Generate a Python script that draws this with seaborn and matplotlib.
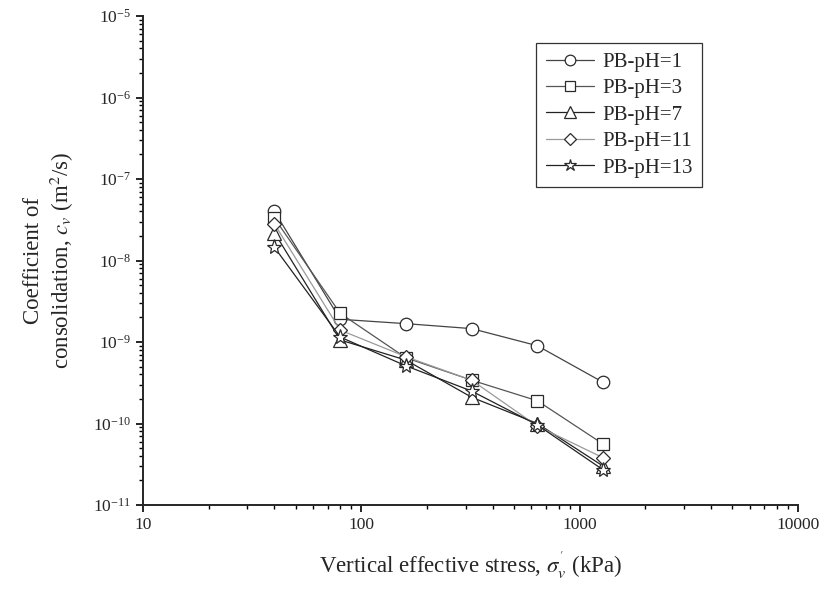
import numpy as np
import pandas as pd
import seaborn as sns
import matplotlib
matplotlib.use("Agg")
import matplotlib.pyplot as plt
from matplotlib.ticker import LogLocator, LogFormatterSciNotation, FixedLocator, NullFormatter

# Consolidation test results: coefficient of consolidation vs vertical effective stress
stress = [40, 80, 160, 320, 640, 1280]  # kPa
cv_ph1 = [4.0e-8, 1.9e-9, 1.68e-9, 1.46e-9, 9.0e-10, 3.2e-10]
cv_ph3 = [3.3e-8, 2.25e-9, 6.4e-10, 3.4e-10, 1.9e-10, 5.6e-11]
cv_ph7 = [2.2e-8, 1.06e-9, 6.0e-10, 2.1e-10, 1.0e-10, 3.0e-11]
cv_ph11 = [2.8e-8, 1.4e-9, 6.6e-10, 3.4e-10, 9.3e-11, 3.8e-11]
cv_ph13 = [1.45e-8, 1.15e-9, 5.1e-10, 2.5e-10, 9.6e-11, 2.7e-11]
series_names = ["PB-pH=1", "PB-pH=3", "PB-pH=7", "PB-pH=11", "PB-pH=13"]

frames = []
for name, vals in zip(series_names, [cv_ph1, cv_ph3, cv_ph7, cv_ph11, cv_ph13]):
    frames.append(pd.DataFrame({"stress": stress, "cv": vals, "series": name}))
df = pd.concat(frames, ignore_index=True)

sns.set_style("ticks")
plt.rcParams["font.family"] = ["Liberation Serif", "DejaVu Serif"]
plt.rcParams["mathtext.fontset"] = "stix"

styles = {
    "PB-pH=1": dict(marker="o", color="#444444", ms=9.0),
    "PB-pH=3": dict(marker="s", color="#555555", ms=8.5),
    "PB-pH=7": dict(marker="^", color="#222222", ms=9.5),
    "PB-pH=11": dict(marker="D", color="#9a9a9a", ms=7.5),
    "PB-pH=13": dict(marker="*", color="#222222", ms=11.0),
}

fig = plt.figure(figsize=(8.27, 5.89), dpi=100)
ax = fig.add_axes([0.1729, 0.1426, 0.7921, 0.8302])

for name in series_names:
    st = styles[name]
    sub = df[df["series"] == name]
    sns.lineplot(data=sub, x="stress", y="cv", ax=ax, color=st["color"],
                 marker=st["marker"], markersize=st["ms"], markerfacecolor="white",
                 markeredgecolor="#2a2a2a", markeredgewidth=0.9, linewidth=0.9,
                 label=name, estimator=None, sort=False)

ax.set_xscale("log")
ax.set_yscale("log")
ax.set_xlim(10, 10000)
ax.set_ylim(1e-11, 1e-5)

ax.xaxis.set_major_locator(FixedLocator([10, 100, 1000, 10000]))
ax.set_xticklabels(["10", "100", "1000", "10000"])
ax.xaxis.set_minor_locator(LogLocator(base=10, subs=np.arange(2, 10)))
ax.xaxis.set_minor_formatter(NullFormatter())
ax.yaxis.set_major_locator(LogLocator(base=10, numticks=10))
ax.yaxis.set_major_formatter(LogFormatterSciNotation())
ax.yaxis.set_minor_locator(LogLocator(base=10, subs=np.arange(2, 10), numticks=20))
ax.yaxis.set_minor_formatter(NullFormatter())

ax.tick_params(axis="both", which="major", direction="out", length=5, width=1.2,
               labelsize=12.5, color="black")
ax.tick_params(axis="both", which="minor", direction="out", length=3, width=1.0,
               color="black")

for side in ["top", "right"]:
    ax.spines[side].set_visible(False)
for side in ["left", "bottom"]:
    ax.spines[side].set_linewidth(1.4)

ax.set_xlabel(r"Vertical effective stress, $\sigma_v^{'}$ (kPa)", fontsize=16.5, labelpad=12)
ax.set_ylabel("Coefficient of\nconsolidation, $c_v$ (m$^2$/s)", fontsize=16.5, labelpad=12)

leg = ax.legend(loc="upper right", bbox_to_anchor=(0.853, 0.945), borderaxespad=0,
                fontsize=15, frameon=True, fancybox=False, handlelength=2.3,
                handletextpad=0.4, labelspacing=0.33, borderpad=0.45, markerscale=0.85)
leg.get_frame().set_edgecolor("black")
leg.get_frame().set_linewidth(0.9)

fig.savefig("out.png", dpi=100)
